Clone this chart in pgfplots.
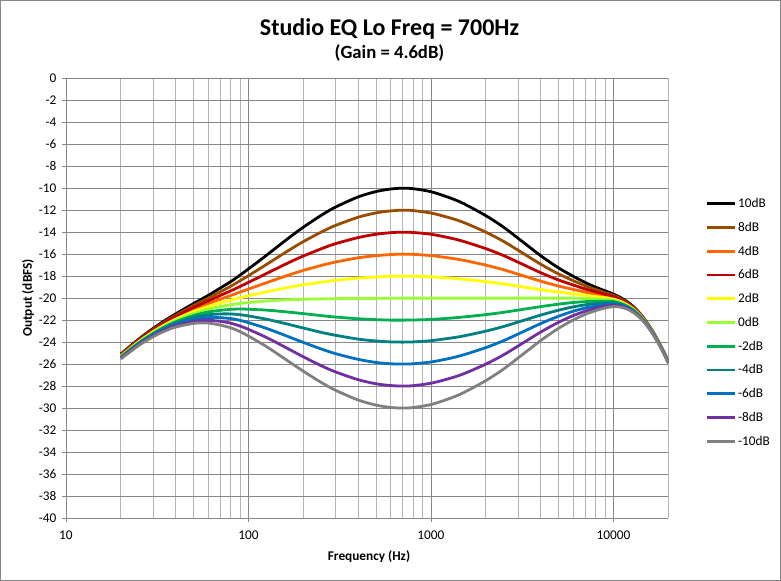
\documentclass[border=0pt]{standalone}
\usepackage{fontspec}
\setmainfont{Carlito}
\usepackage{pgfplots}
\usepackage{pgfplotstable}
\pgfplotsset{compat=1.18}

\definecolor{gridmajor}{RGB}{134,134,134}
\definecolor{gridminor}{RGB}{180,180,180}
\definecolor{cbrown}{RGB}{153,76,0}
\definecolor{corange}{RGB}{255,102,0}
\definecolor{cred}{RGB}{192,0,0}
\definecolor{cyellow}{RGB}{255,255,0}
\definecolor{clgreen}{RGB}{153,255,51}
\definecolor{cgreen}{RGB}{0,176,80}
\definecolor{cteal}{RGB}{0,128,128}
\definecolor{cblue}{RGB}{0,112,192}
\definecolor{cpurple}{RGB}{112,48,160}
\definecolor{cgray}{RGB}{128,128,128}

\pgfplotstableread{
f     p10     p8      p6      p4      p2      z0      m2      m4      m6      m8      m10
20    -25.08  -25.12  -25.17  -25.21  -25.26  -25.30  -25.34  -25.39  -25.43  -25.48  -25.52
25    -23.74  -23.80  -23.86  -23.91  -23.97  -24.03  -24.09  -24.15  -24.20  -24.26  -24.32
30    -22.76  -22.84  -22.91  -22.99  -23.06  -23.14  -23.22  -23.29  -23.37  -23.44  -23.52
35    -22.02  -22.12  -22.21  -22.31  -22.40  -22.50  -22.60  -22.69  -22.79  -22.88  -22.98
40    -21.43  -21.55  -21.67  -21.79  -21.91  -22.03  -22.15  -22.27  -22.39  -22.51  -22.63
50    -20.50  -20.68  -20.86  -21.04  -21.22  -21.40  -21.58  -21.76  -21.94  -22.12  -22.30
60    -19.77  -20.02  -20.27  -20.52  -20.77  -21.02  -21.27  -21.52  -21.77  -22.02  -22.27
70    -19.09  -19.43  -19.76  -20.10  -20.43  -20.77  -21.11  -21.44  -21.78  -22.11  -22.45
80    -18.50  -18.92  -19.34  -19.76  -20.18  -20.60  -21.02  -21.44  -21.86  -22.28  -22.70
90    -17.91  -18.42  -18.94  -19.45  -19.97  -20.48  -20.99  -21.51  -22.02  -22.54  -23.05
100   -17.35  -17.96  -18.57  -19.18  -19.79  -20.40  -21.01  -21.62  -22.23  -22.84  -23.45
125   -16.13  -16.96  -17.78  -18.61  -19.43  -20.26  -21.09  -21.91  -22.74  -23.56  -24.39
150   -15.10  -16.12  -17.13  -18.15  -19.16  -20.18  -21.20  -22.21  -23.23  -24.24  -25.26
175   -14.25  -15.43  -16.60  -17.78  -18.95  -20.13  -21.31  -22.48  -23.66  -24.83  -26.01
200   -13.55  -14.86  -16.17  -17.48  -18.79  -20.10  -21.41  -22.72  -24.03  -25.34  -26.65
250   -12.48  -14.00  -15.52  -17.03  -18.55  -20.07  -21.59  -23.11  -24.62  -26.14  -27.66
300   -11.72  -13.39  -15.05  -16.72  -18.38  -20.05  -21.72  -23.38  -25.05  -26.71  -28.38
400   -10.79  -12.64  -14.49  -16.33  -18.18  -20.03  -21.88  -23.73  -25.57  -27.42  -29.27
500   -10.31  -12.25  -14.19  -16.14  -18.08  -20.02  -21.96  -23.90  -25.85  -27.79  -29.73
600   -10.08  -12.07  -14.05  -16.04  -18.02  -20.01  -22.00  -23.98  -25.97  -27.95  -29.94
700   -10.00  -12.00  -14.00  -16.00  -18.00  -20.00  -22.00  -24.00  -26.00  -28.00  -30.00
800   -10.05  -12.04  -14.03  -16.02  -18.01  -20.00  -21.99  -23.98  -25.97  -27.96  -29.95
1000  -10.32  -12.26  -14.19  -16.13  -18.06  -20.00  -21.94  -23.87  -25.81  -27.74  -29.68
1250  -10.84  -12.67  -14.50  -16.34  -18.17  -20.00  -21.83  -23.66  -25.50  -27.33  -29.16
1500  -11.38  -13.10  -14.83  -16.55  -18.28  -20.00  -21.72  -23.45  -25.17  -26.90  -28.62
2000  -12.50  -14.00  -15.50  -17.00  -18.50  -20.00  -21.50  -23.00  -24.50  -26.00  -27.50
2500  -13.55  -14.84  -16.13  -17.42  -18.71  -20.00  -21.29  -22.58  -23.87  -25.16  -26.45
3000  -14.55  -15.64  -16.73  -17.82  -18.91  -20.00  -21.09  -22.18  -23.27  -24.36  -25.45
4000  -16.15  -16.92  -17.69  -18.46  -19.23  -20.00  -20.77  -21.54  -22.31  -23.08  -23.85
5000  -17.25  -17.80  -18.35  -18.90  -19.45  -20.00  -20.55  -21.10  -21.65  -22.20  -22.75
6000  -18.00  -18.40  -18.80  -19.20  -19.60  -20.00  -20.40  -20.80  -21.20  -21.60  -22.00
7000  -18.58  -18.87  -19.16  -19.45  -19.74  -20.03  -20.32  -20.61  -20.90  -21.19  -21.48
8000  -19.01  -19.22  -19.43  -19.65  -19.86  -20.07  -20.28  -20.49  -20.71  -20.92  -21.13
9000  -19.34  -19.50  -19.65  -19.81  -19.96  -20.12  -20.28  -20.43  -20.59  -20.74  -20.90
10000 -19.63  -19.74  -19.86  -19.97  -20.09  -20.20  -20.31  -20.43  -20.54  -20.66  -20.77
11000 -19.97  -20.06  -20.14  -20.23  -20.31  -20.40  -20.49  -20.57  -20.66  -20.74  -20.83
12000 -20.37  -20.44  -20.50  -20.57  -20.63  -20.70  -20.77  -20.83  -20.90  -20.96  -21.03
13000 -20.84  -20.89  -20.94  -21.00  -21.05  -21.10  -21.15  -21.20  -21.26  -21.31  -21.36
14000 -21.40  -21.44  -21.48  -21.52  -21.56  -21.60  -21.64  -21.68  -21.72  -21.76  -21.80
15000 -22.05  -22.08  -22.11  -22.14  -22.17  -22.20  -22.23  -22.26  -22.29  -22.32  -22.35
16000 -22.73  -22.75  -22.78  -22.80  -22.83  -22.85  -22.87  -22.90  -22.92  -22.95  -22.97
17000 -23.45  -23.47  -23.49  -23.51  -23.53  -23.55  -23.57  -23.59  -23.61  -23.63  -23.65
18000 -24.22  -24.24  -24.25  -24.27  -24.28  -24.30  -24.32  -24.33  -24.35  -24.36  -24.38
19000 -24.98  -24.99  -25.01  -25.02  -25.04  -25.05  -25.06  -25.08  -25.09  -25.11  -25.12
20000 -25.79  -25.80  -25.81  -25.83  -25.84  -25.85  -25.86  -25.87  -25.89  -25.90  -25.91
}\eqdata

\begin{document}
\begin{tikzpicture}[x=1pt,y=1pt]
\draw[draw=gridmajor, line width=0.8pt] (0.5,0.5) rectangle (780.5,580.5);
\node[anchor=base, font=\bfseries\fontsize{24}{28}\selectfont] at (389.5,545.2) {Studio EQ Lo Freq = 700Hz};
\node[anchor=base, font=\bfseries\fontsize{18.67}{22}\selectfont] at (389.5,522.3) {(Gain = 4.6dB)};
\node[anchor=base, font=\bfseries\fontsize{13.3}{16}\selectfont] at (369,21) {Frequency (Hz)};
\node[anchor=base, rotate=90, font=\bfseries\fontsize{13.3}{16}\selectfont] at (32,283) {Output (dBFS)};
\begin{axis}[
  at={(66pt,63pt)}, anchor=south west,
  width=602.3pt, height=439.7pt, scale only axis,
  xmode=log, xmin=10, xmax=20000, ymin=-40, ymax=0,
  xtick={10,100,1000,10000}, xticklabels={10,100,1000,10000},
  minor xtick={20,30,40,50,60,70,80,90,200,300,400,500,600,700,800,900,2000,3000,4000,5000,6000,7000,8000,9000,20000},
  ytick={-40,-38,...,0},
  yticklabels={-40,-38,-36,-34,-32,-30,-28,-26,-24,-22,-20,-18,-16,-14,-12,-10,-8,-6,-4,-2,0},
  grid=both,
  major grid style={draw=gridmajor, line width=0.8pt},
  minor grid style={draw=gridminor, line width=0.8pt},
  axis x line*=bottom, axis y line*=left,
  axis line style={draw=gridmajor, line width=0.8pt, -},
  tick align=outside, major tick length=4pt, minor tick length=0pt,
  tick style={draw=gridmajor, line width=0.8pt},
  ticklabel style={font=\fontsize{13.3}{16}\selectfont},
  xticklabel style={yshift=-5pt},
  yticklabel style={xshift=-2pt},
  every axis plot/.append style={line width=2.8pt, smooth},
  legend style={at={(1,1)}, anchor=north west, xshift=36.7pt, yshift=-118pt,
    draw=none, fill=none, inner sep=0pt, row sep=9pt,
    font=\fontsize{13.3}{16}\selectfont, legend cell align=left},
  legend image code/.code={\draw[#1, line width=2.8pt] (0pt,0pt) -- (28pt,0pt);},
]
\addplot[black] table[x=f,y=p10] {\eqdata};
\addlegendentry{10dB}
\addplot[cbrown] table[x=f,y=p8] {\eqdata};
\addlegendentry{8dB}
\addplot[corange] table[x=f,y=p4] {\eqdata};
\addlegendentry{4dB}
\addplot[cred] table[x=f,y=p6] {\eqdata};
\addlegendentry{6dB}
\addplot[cyellow] table[x=f,y=p2] {\eqdata};
\addlegendentry{2dB}
\addplot[clgreen] table[x=f,y=z0] {\eqdata};
\addlegendentry{0dB}
\addplot[cgreen] table[x=f,y=m2] {\eqdata};
\addlegendentry{-2dB}
\addplot[cteal] table[x=f,y=m4] {\eqdata};
\addlegendentry{-4dB}
\addplot[cblue] table[x=f,y=m6] {\eqdata};
\addlegendentry{-6dB}
\addplot[cpurple] table[x=f,y=m8] {\eqdata};
\addlegendentry{-8dB}
\addplot[cgray] table[x=f,y=m10] {\eqdata};
\addlegendentry{-10dB}
\end{axis}
\end{tikzpicture}
\end{document}
